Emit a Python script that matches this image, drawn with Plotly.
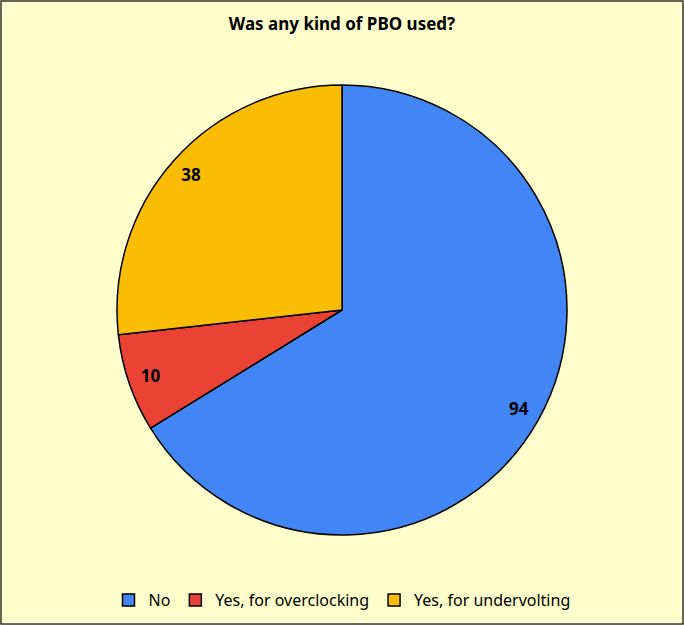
import plotly.graph_objects as go

labels = ["No", "Yes, for overclocking", "Yes, for undervolting"]
counts = [94, 10, 38]
colors = ["#4285F4", "#EA4335", "#FBBC04"]

W, H = 684, 625
L, R, T, B = 20, 20, 85, 90
pw, ph = W - L - R, H - T - B

fig = go.Figure()
fig.add_trace(go.Pie(
    labels=labels, values=counts, sort=False, direction="clockwise", rotation=0,
    marker=dict(colors=colors, line=dict(color="#000000", width=1.5)),
    textinfo="none", hoverinfo="label+value",
))
# label ring: transparent donut so the numbers sit near the rim
fig.add_trace(go.Pie(
    labels=labels, values=counts, sort=False, direction="clockwise", rotation=0,
    hole=0.8, showlegend=False, hoverinfo="skip",
    marker=dict(colors=["rgba(0,0,0,0)"] * 3, line=dict(width=0)),
    texttemplate="<b>%{value}</b>", textposition="inside",
    insidetextorientation="horizontal",
    textfont=dict(size=17, color="#000000", family="Noto Sans"),
))
fig.update_layout(
    width=W, height=H,
    margin=dict(l=L, r=R, t=T, b=B, autoexpand=False),
    paper_bgcolor="#FFFFCC",
    font=dict(family="Noto Sans", color="#000000"),
    title=dict(text="<b>Was any kind of PBO used?</b>", x=0.5, xanchor="center",
               y=1 - 24 / H, yanchor="middle", font=dict(size=17)),
    legend=dict(orientation="h", x=0.5, xanchor="center", yref="container",
                y=1 - 600 / H, yanchor="middle", font=dict(size=16),
                itemwidth=30, tracegroupgap=0),
    shapes=[dict(type="rect", xref="paper", yref="paper",
                 x0=-(L - 1) / pw, x1=1 + (R - 1) / pw,
                 y0=-(B - 1) / ph, y1=1 + (T - 1) / ph,
                 line=dict(color="#333333", width=1.5))],
)
fig.write_html("out.html", config={"displayModeBar": False},
               post_script="document.body.style.margin='0';")
